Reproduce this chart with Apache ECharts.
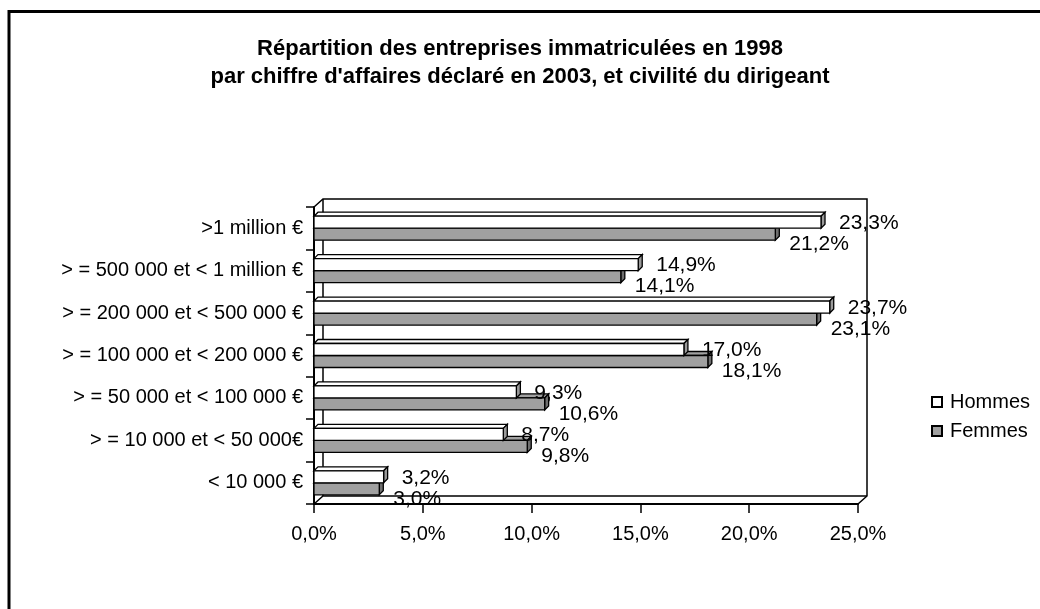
<!DOCTYPE html>
<html>
<head>
<meta charset="utf-8">
<script src="https://cdn.jsdelivr.net/npm/echarts@6/dist/echarts.min.js"></script>
<style>
  html, body { margin: 0; padding: 0; background: #fff; }
  #chart { width: 1040px; height: 609px; }
</style>
</head>
<body>
<div id="chart"></div>
<script>
  // catégories (de haut en bas)
  var categories = [
    '>1 million €',
    '> = 500 000 et < 1 million €',
    '> = 200 000 et < 500 000 €',
    '> = 100 000 et < 200 000 €',
    '> = 50 000 et < 100 000 €',
    '> = 10 000 et < 50 000€',
    '< 10 000 €'
  ];
  var hommes = [23.3, 14.9, 23.7, 17.0, 9.3, 8.7, 3.2];
  var femmes = [21.2, 14.1, 23.1, 18.1, 10.6, 9.8, 3.0];
  var xTicks = [0, 5, 10, 15, 20, 25];

  var FONT = 'Liberation Sans, Arial, sans-serif';
  // cadre du graphique (face avant)
  var G = { left: 314, top: 207, right: 858, bottom: 504 };
  var DX = 9, DY = 8;

  function fmt(v) {
    return v.toFixed(1).replace('.', ',') + '%';
  }

  function barRenderer(isTop, fill, side, lblDx, lblDy) {
    return function (params, api) {
      var v = api.value(0);
      var cat = api.value(1);
      var p0 = api.coord([0, cat]);
      var p1 = api.coord([v, cat]);
      var h = 12, d = 4;
      var x0 = p0[0], x1 = p1[0];
      var y0 = isTop ? p0[1] - h : p0[1];
      var line = { stroke: '#000', lineWidth: 1.3 };
      return {
        type: 'group',
        children: [
          { type: 'polygon', shape: { points: [[x0, y0], [x0 + d, y0 - d], [x1 + d, y0 - d], [x1, y0]] },
            style: Object.assign({ fill: fill }, line) },
          { type: 'polygon', shape: { points: [[x1, y0], [x1 + d, y0 - d], [x1 + d, y0 + h - d], [x1, y0 + h]] },
            style: Object.assign({ fill: side }, line) },
          { type: 'rect', shape: { x: x0, y: y0, width: x1 - x0, height: h },
            style: Object.assign({ fill: fill }, line) },
          { type: 'text', z2: 10, style: {
              text: fmt(v), x: x1 + d + lblDx, y: y0 + h / 2 + lblDy,
              textVerticalAlign: 'middle', font: '21px ' + FONT, fill: '#000' } }
        ]
      };
    };
  }

  function toData(arr) {
    return arr.map(function (v, i) { return [v, i]; });
  }

  var chart = echarts.init(document.getElementById('chart'));

  var wall = { stroke: '#000', lineWidth: 1.5 };
  chart.setOption({
    backgroundColor: '#fff',
    animation: false,
    title: {
      text: "Répartition des entreprises immatriculées en 1998\npar chiffre d'affaires déclaré en 2003, et civilité du dirigeant",
      left: 'center',
      top: 30,
      textStyle: { fontFamily: FONT, fontSize: 22, fontWeight: 'bold', color: '#000', lineHeight: 28 }
    },
    legend: {
      orient: 'vertical',
      left: 926,
      top: 387,
      itemWidth: 10,
      itemHeight: 10,
      itemGap: 9,
      icon: 'rect',
      textStyle: { fontFamily: FONT, fontSize: 20, color: '#000', padding: [0, 0, 0, 3] },
      data: ['Hommes', 'Femmes']
    },
    grid: {
      left: G.left,
      top: G.top,
      width: G.right - G.left,
      height: G.bottom - G.top
    },
    xAxis: {
      type: 'value',
      min: xTicks[0],
      max: xTicks[xTicks.length - 1],
      interval: 5,
      splitLine: { show: false },
      axisLine: { show: true, lineStyle: { color: '#000', width: 2 } },
      axisTick: { show: true, length: 9, lineStyle: { color: '#000', width: 1.5 } },
      axisLabel: { formatter: function (v) { return fmt(v); }, margin: 20,
        fontFamily: FONT, fontSize: 20, color: '#000' }
    },
    yAxis: {
      type: 'category',
      inverse: true,
      data: categories,
      axisLine: { show: true, lineStyle: { color: '#000', width: 2 } },
      axisTick: { show: true, length: 8, lineStyle: { color: '#000', width: 1.5 } },
      axisLabel: { margin: 11, fontFamily: FONT, fontSize: 20, color: '#000' }
    },
    graphic: [
      { type: 'rect', shape: { x: 9, y: 11.5, width: 1100, height: 700 },
        style: { fill: 'none', stroke: '#000', lineWidth: 3 }, z: 1 },
      { type: 'polyline', z: 1, shape: { points: [
          [G.left, G.top], [G.left + DX, G.top - DY], [G.right + DX, G.top - DY],
          [G.right + DX, G.bottom - DY], [G.right, G.bottom]] }, style: wall },
      { type: 'line', z: 1, shape: { x1: G.left + DX, y1: G.top - DY, x2: G.left + DX, y2: G.bottom - DY }, style: wall },
      { type: 'polyline', z: 1, shape: { points: [
          [G.left, G.bottom], [G.left + DX, G.bottom - DY], [G.right + DX, G.bottom - DY]] }, style: wall }
    ],
    series: [
      {
        name: 'Hommes',
        type: 'custom',
        z: 4,
        itemStyle: { color: '#ffffff', borderColor: '#000', borderWidth: 1 },
        encode: { x: 0, y: 1 },
        renderItem: barRenderer(true, '#ffffff', '#9a9a9a', 14, 1),
        data: toData(hommes)
      },
      {
        name: 'Femmes',
        type: 'custom',
        z: 3,
        itemStyle: { color: '#a0a0a0', borderColor: '#000', borderWidth: 1 },
        encode: { x: 0, y: 1 },
        renderItem: barRenderer(false, '#a0a0a0', '#6e6e6e', 10, 10),
        data: toData(femmes)
      }
    ]
  });
</script>
</body>
</html>
